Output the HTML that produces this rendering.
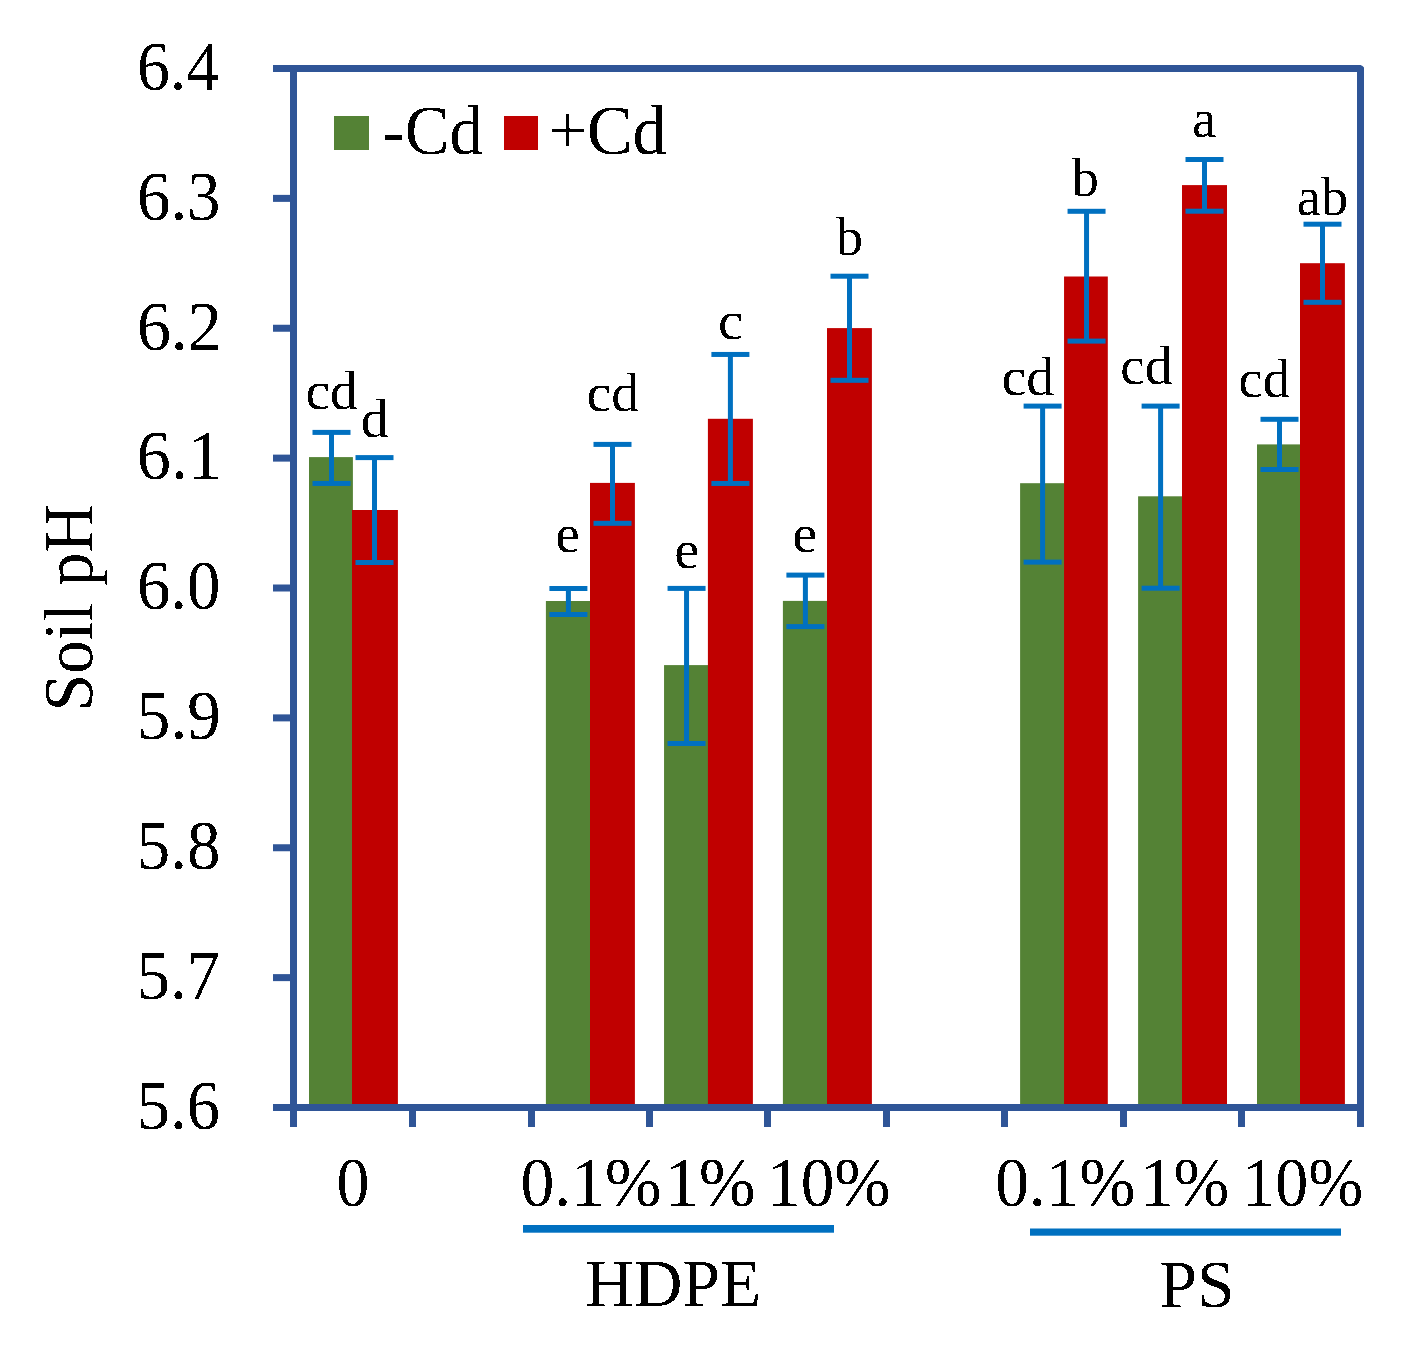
<!DOCTYPE html>
<html><head><meta charset="utf-8"><style>
html,body{margin:0;padding:0;background:#fff;}
body{width:1422px;height:1355px;overflow:hidden;}
svg{display:block;}
text{font-family:"Liberation Serif",serif;fill:#000;}
</style></head><body>
<svg width="1422" height="1355" viewBox="0 0 1422 1355">
<defs><filter id="bin" filterUnits="userSpaceOnUse" x="0" y="0" width="1422" height="1355" color-interpolation-filters="sRGB"><feComponentTransfer><feFuncA type="discrete" tableValues="0 1"/></feComponentTransfer></filter></defs>
<rect width="1422" height="1355" fill="#fff"/>
<rect x="309.00" y="457.10" width="43.90" height="650.40" fill="#548235"/>
<rect x="352.00" y="510.00" width="45.90" height="597.50" fill="#C00000"/>
<rect x="545.90" y="601.00" width="45.00" height="506.50" fill="#548235"/>
<rect x="590.00" y="482.90" width="44.90" height="624.60" fill="#C00000"/>
<rect x="664.05" y="665.10" width="44.75" height="442.40" fill="#548235"/>
<rect x="707.90" y="418.80" width="45.00" height="688.70" fill="#C00000"/>
<rect x="782.90" y="600.90" width="45.00" height="506.60" fill="#548235"/>
<rect x="827.00" y="328.10" width="44.90" height="779.40" fill="#C00000"/>
<rect x="1020.10" y="483.20" width="44.85" height="624.30" fill="#548235"/>
<rect x="1064.05" y="276.50" width="43.75" height="831.00" fill="#C00000"/>
<rect x="1138.10" y="496.30" width="44.80" height="611.20" fill="#548235"/>
<rect x="1182.00" y="185.10" width="45.00" height="922.40" fill="#C00000"/>
<rect x="1257.00" y="444.40" width="43.90" height="663.10" fill="#548235"/>
<rect x="1300.00" y="263.20" width="44.90" height="844.30" fill="#C00000"/>
<rect x="329.00" y="432.40" width="5.00" height="51.05" fill="#0070C0"/>
<rect x="312.50" y="429.90" width="38.00" height="5.00" fill="#0070C0"/>
<rect x="312.50" y="480.95" width="38.00" height="5.00" fill="#0070C0"/>
<rect x="372.00" y="457.60" width="5.00" height="104.90" fill="#0070C0"/>
<rect x="355.50" y="455.10" width="38.00" height="5.00" fill="#0070C0"/>
<rect x="355.50" y="560.00" width="38.00" height="5.00" fill="#0070C0"/>
<rect x="565.90" y="588.50" width="5.00" height="26.00" fill="#0070C0"/>
<rect x="549.40" y="586.00" width="38.00" height="5.00" fill="#0070C0"/>
<rect x="549.40" y="612.00" width="38.00" height="5.00" fill="#0070C0"/>
<rect x="610.00" y="444.40" width="5.00" height="78.90" fill="#0070C0"/>
<rect x="593.50" y="441.90" width="38.00" height="5.00" fill="#0070C0"/>
<rect x="593.50" y="520.80" width="38.00" height="5.00" fill="#0070C0"/>
<rect x="684.05" y="588.40" width="5.00" height="155.10" fill="#0070C0"/>
<rect x="667.55" y="585.90" width="38.00" height="5.00" fill="#0070C0"/>
<rect x="667.55" y="741.00" width="38.00" height="5.00" fill="#0070C0"/>
<rect x="727.90" y="354.45" width="5.00" height="129.00" fill="#0070C0"/>
<rect x="711.40" y="351.95" width="38.00" height="5.00" fill="#0070C0"/>
<rect x="711.40" y="480.95" width="38.00" height="5.00" fill="#0070C0"/>
<rect x="802.90" y="575.10" width="5.00" height="51.50" fill="#0070C0"/>
<rect x="786.40" y="572.60" width="38.00" height="5.00" fill="#0070C0"/>
<rect x="786.40" y="624.10" width="38.00" height="5.00" fill="#0070C0"/>
<rect x="847.00" y="276.20" width="5.00" height="104.10" fill="#0070C0"/>
<rect x="830.50" y="273.70" width="38.00" height="5.00" fill="#0070C0"/>
<rect x="830.50" y="377.80" width="38.00" height="5.00" fill="#0070C0"/>
<rect x="1040.10" y="406.10" width="5.00" height="156.00" fill="#0070C0"/>
<rect x="1023.60" y="403.60" width="38.00" height="5.00" fill="#0070C0"/>
<rect x="1023.60" y="559.60" width="38.00" height="5.00" fill="#0070C0"/>
<rect x="1084.05" y="211.30" width="5.00" height="129.80" fill="#0070C0"/>
<rect x="1067.55" y="208.80" width="38.00" height="5.00" fill="#0070C0"/>
<rect x="1067.55" y="338.60" width="38.00" height="5.00" fill="#0070C0"/>
<rect x="1158.10" y="406.10" width="5.00" height="182.10" fill="#0070C0"/>
<rect x="1141.60" y="403.60" width="38.00" height="5.00" fill="#0070C0"/>
<rect x="1141.60" y="585.70" width="38.00" height="5.00" fill="#0070C0"/>
<rect x="1202.00" y="159.50" width="5.00" height="51.70" fill="#0070C0"/>
<rect x="1185.50" y="157.00" width="38.00" height="5.00" fill="#0070C0"/>
<rect x="1185.50" y="208.70" width="38.00" height="5.00" fill="#0070C0"/>
<rect x="1277.00" y="419.30" width="5.00" height="50.20" fill="#0070C0"/>
<rect x="1260.50" y="416.80" width="38.00" height="5.00" fill="#0070C0"/>
<rect x="1260.50" y="467.00" width="38.00" height="5.00" fill="#0070C0"/>
<rect x="1320.00" y="224.20" width="5.00" height="78.10" fill="#0070C0"/>
<rect x="1303.50" y="221.70" width="38.00" height="5.00" fill="#0070C0"/>
<rect x="1303.50" y="299.80" width="38.00" height="5.00" fill="#0070C0"/>
<rect x="290.00" y="65.00" width="7.00" height="1062.00" fill="#2F5597"/>
<rect x="273.00" y="1104.00" width="1091.00" height="7.00" fill="#2F5597"/>
<rect x="1357.00" y="67.50" width="7.00" height="1059.50" fill="#2F5597"/>
<rect x="273.00" y="65.00" width="1087.70" height="7.00" fill="#2F5597"/>
<path d="M1360.5 65 L1362.5 66 L1364 67.5 L1364 72 L1357 72 L1357 65 Z" fill="#2F5597"/>
<rect x="273.00" y="194.88" width="17.00" height="7.00" fill="#2F5597"/>
<rect x="273.00" y="324.75" width="17.00" height="7.00" fill="#2F5597"/>
<rect x="273.00" y="454.62" width="17.00" height="7.00" fill="#2F5597"/>
<rect x="273.00" y="584.50" width="17.00" height="7.00" fill="#2F5597"/>
<rect x="273.00" y="714.38" width="17.00" height="7.00" fill="#2F5597"/>
<rect x="273.00" y="844.25" width="17.00" height="7.00" fill="#2F5597"/>
<rect x="273.00" y="974.12" width="17.00" height="7.00" fill="#2F5597"/>
<rect x="409.00" y="1111.00" width="7.00" height="16.00" fill="#2F5597"/>
<rect x="528.00" y="1111.00" width="7.00" height="16.00" fill="#2F5597"/>
<rect x="646.00" y="1111.00" width="7.00" height="16.00" fill="#2F5597"/>
<rect x="764.00" y="1111.00" width="7.00" height="16.00" fill="#2F5597"/>
<rect x="883.00" y="1111.00" width="7.00" height="16.00" fill="#2F5597"/>
<rect x="1001.00" y="1111.00" width="7.00" height="16.00" fill="#2F5597"/>
<rect x="1120.00" y="1111.00" width="7.00" height="16.00" fill="#2F5597"/>
<rect x="1238.00" y="1111.00" width="7.00" height="16.00" fill="#2F5597"/>
<rect x="523.00" y="1225.00" width="311.00" height="7.70" fill="#0070C0"/>
<rect x="1030.00" y="1228.50" width="311.00" height="7.20" fill="#0070C0"/>
<rect x="334.00" y="116.00" width="35.00" height="34.00" fill="#548235"/>
<rect x="504.00" y="116.00" width="34.00" height="34.00" fill="#C00000"/>
<g filter="url(#bin)">
<text x="136.98" y="89.80" font-size="69.4" textLength="82.05" lengthAdjust="spacingAndGlyphs">6.4</text>
<text x="136.92" y="219.68" font-size="69.4" textLength="83.69" lengthAdjust="spacingAndGlyphs">6.3</text>
<text x="136.88" y="349.55" font-size="69.4" textLength="84.86" lengthAdjust="spacingAndGlyphs">6.2</text>
<text x="136.87" y="479.43" font-size="69.4" textLength="85.22" lengthAdjust="spacingAndGlyphs">6.1</text>
<text x="136.93" y="609.30" font-size="69.4" textLength="83.62" lengthAdjust="spacingAndGlyphs">6.0</text>
<text x="136.80" y="739.17" font-size="69.4" textLength="83.96" lengthAdjust="spacingAndGlyphs">5.9</text>
<text x="136.81" y="869.05" font-size="69.4" textLength="83.74" lengthAdjust="spacingAndGlyphs">5.8</text>
<text x="136.84" y="998.92" font-size="69.4" textLength="83.08" lengthAdjust="spacingAndGlyphs">5.7</text>
<text x="136.83" y="1128.80" font-size="69.4" textLength="83.15" lengthAdjust="spacingAndGlyphs">5.6</text>
<text x="336.48" y="1205.92" font-size="69.4" textLength="33.03" lengthAdjust="spacingAndGlyphs">0</text>
<text x="520.42" y="1206.02" font-size="69.4" textLength="140.89" lengthAdjust="spacingAndGlyphs">0.1%</text>
<text x="665.05" y="1206.09" font-size="69.4" textLength="90.27" lengthAdjust="spacingAndGlyphs">1%</text>
<text x="766.98" y="1206.09" font-size="69.4" textLength="123.53" lengthAdjust="spacingAndGlyphs">10%</text>
<text x="995.13" y="1206.02" font-size="69.4" textLength="140.37" lengthAdjust="spacingAndGlyphs">0.1%</text>
<text x="1140.23" y="1206.09" font-size="69.4" textLength="89.06" lengthAdjust="spacingAndGlyphs">1%</text>
<text x="1242.21" y="1206.09" font-size="69.4" textLength="120.85" lengthAdjust="spacingAndGlyphs">10%</text>
<text x="585.06" y="1306.47" font-size="68.3" textLength="176.10" lengthAdjust="spacingAndGlyphs">HDPE</text>
<text x="1159.45" y="1306.73" font-size="68.3" textLength="75.13" lengthAdjust="spacingAndGlyphs">PS</text>
<text x="382.52" y="154.23" font-size="69" textLength="100.30" lengthAdjust="spacingAndGlyphs">-Cd</text>
<text x="548.60" y="154.23" font-size="69" textLength="118.13" lengthAdjust="spacingAndGlyphs">+Cd</text>
<text x="305.60" y="409.46" font-size="55.5" textLength="52.07" lengthAdjust="spacingAndGlyphs">cd</text>
<text x="360.79" y="436.56" font-size="55.5" textLength="27.79" lengthAdjust="spacingAndGlyphs">d</text>
<text x="555.55" y="552.36" font-size="55.5" textLength="24.46" lengthAdjust="spacingAndGlyphs">e</text>
<text x="586.59" y="410.86" font-size="55.5" textLength="52.29" lengthAdjust="spacingAndGlyphs">cd</text>
<text x="674.38" y="568.46" font-size="55.5" textLength="25.18" lengthAdjust="spacingAndGlyphs">e</text>
<text x="718.04" y="338.56" font-size="55.5" textLength="25.21" lengthAdjust="spacingAndGlyphs">c</text>
<text x="792.42" y="551.86" font-size="55.5" textLength="24.82" lengthAdjust="spacingAndGlyphs">e</text>
<text x="836.30" y="255.16" font-size="55.5" textLength="26.74" lengthAdjust="spacingAndGlyphs">b</text>
<text x="1001.47" y="395.26" font-size="55.5" textLength="52.81" lengthAdjust="spacingAndGlyphs">cd</text>
<text x="1071.80" y="195.56" font-size="55.5" textLength="27.06" lengthAdjust="spacingAndGlyphs">b</text>
<text x="1120.19" y="384.36" font-size="55.5" textLength="52.18" lengthAdjust="spacingAndGlyphs">cd</text>
<text x="1191.97" y="136.96" font-size="55.5" textLength="24.38" lengthAdjust="spacingAndGlyphs">a</text>
<text x="1238.52" y="397.06" font-size="55.5" textLength="51.44" lengthAdjust="spacingAndGlyphs">cd</text>
<text x="1296.79" y="214.66" font-size="55.5" textLength="51.28" lengthAdjust="spacingAndGlyphs">ab</text>
<text transform="translate(92.3,711.40) rotate(-90)" x="0" y="0" font-size="69" textLength="207.37" lengthAdjust="spacingAndGlyphs">Soil pH</text>
</g>
</svg>
</body></html>
